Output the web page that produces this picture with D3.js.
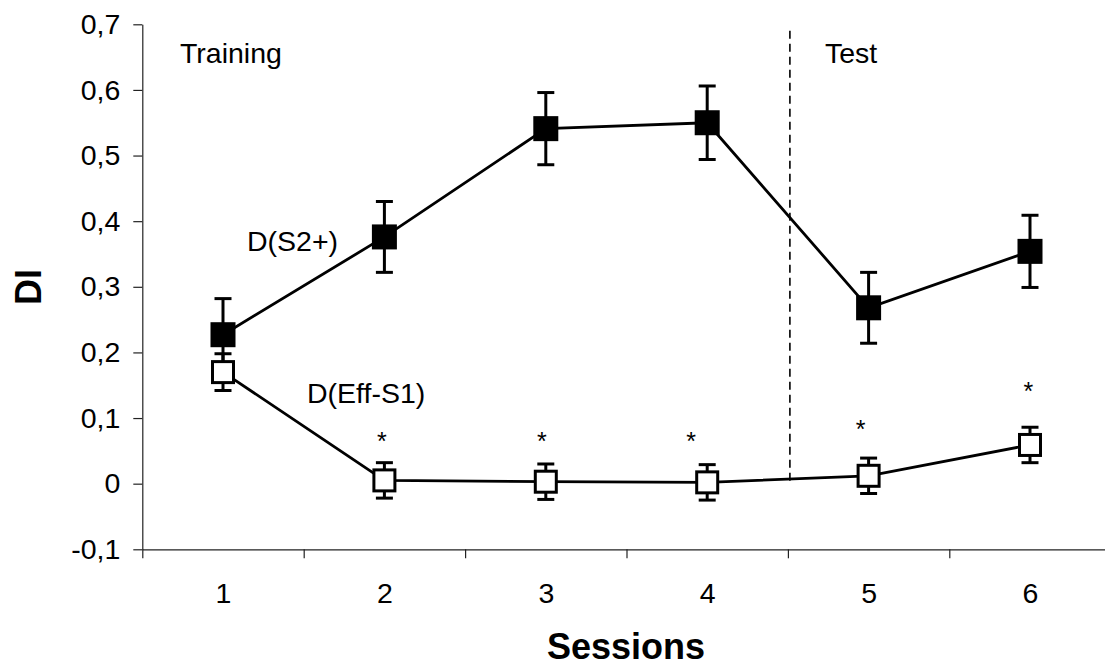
<!DOCTYPE html>
<html>
<head>
<meta charset="utf-8">
<script src="https://cdn.jsdelivr.net/npm/d3@7"></script>
<style>
  body { margin: 0; background: #fff; }
  text { font-family: "Liberation Sans", Arial, sans-serif; }
</style>
</head>
<body>
<div id="chart"></div>
<script>
// data
var sessions = [1, 2, 3, 4, 5, 6];
var s2Values = [0.227, 0.376, 0.541, 0.55, 0.268, 0.354];
var s2Errors = [0.055, 0.054, 0.055, 0.056, 0.054, 0.055];
var effValues = [0.17, 0.005, 0.003, 0.002, 0.012, 0.059];
var effErrors = [0.028, 0.027, 0.027, 0.027, 0.027, 0.027];
var starX = [1.985, 2.976, 3.9, 4.95, 5.99];
var starY = [0.073, 0.073, 0.073, 0.091, 0.148];
var yTicks = [-0.1, 0, 0.1, 0.2, 0.3, 0.4, 0.5, 0.6, 0.7];
var xBounds = [0.5, 1.5, 2.5, 3.5, 4.5, 5.5, 6.5];
var splitAt = 4.5;

var width = 1105, height = 666;

var svg = d3
  .select("#chart")
  .append("svg")
  .attr("width", width)
  .attr("height", height);

var x = d3.scaleLinear().domain([0.5, 6.5]).range([142.3, 142.3 + 6 * 161.4]);
var y = d3.scaleLinear().domain([-0.1, 0.7]).range([549.3, 24.3]);

function fmt(d) {
  if (Math.abs(d) < 1e-9) return "0";
  return d.toFixed(1).replace(".", ",");
}

// Y axis
var yAxis = svg
  .append("g")
  .attr("class", "y axis")
  .attr("transform", "translate(" + x(0.5) + ",0)")
  .call(
    d3.axisLeft(y).tickValues(yTicks).tickFormat(fmt).tickSize(9).tickSizeOuter(0).tickPadding(13)
  );
yAxis.selectAll("text").style("font-size", "28.5px").attr("fill", "#000");

// X axis (boundary ticks)
svg
  .append("g")
  .attr("class", "x axis")
  .attr("transform", "translate(0," + y(-0.1) + ")")
  .call(d3.axisBottom(x).tickValues(xBounds).tickFormat("").tickSize(9).tickSizeOuter(0));

// X labels at centers
svg
  .append("g")
  .attr("transform", "translate(0," + y(-0.1) + ")")
  .call(d3.axisBottom(x).tickValues(sessions).tickFormat(d3.format("d")).tickSize(0).tickPadding(33))
  .call(function (g) {
    g.select(".domain").remove();
  })
  .selectAll("text")
  .style("font-size", "28.5px")
  .attr("fill", "#000");

svg.selectAll(".axis path, .axis line").attr("stroke", "#222").attr("stroke-width", 1.2);

// Axis titles
svg
  .append("text")
  .attr("x", 626)
  .attr("y", 659)
  .attr("text-anchor", "middle")
  .style("font-size", "36px")
  .style("font-weight", "bold")
  .text("Sessions");

svg
  .append("text")
  .attr("transform", "translate(41,287) rotate(-90)")
  .attr("text-anchor", "middle")
  .style("font-size", "36px")
  .style("font-weight", "bold")
  .text("DI");

// training / test divider
svg
  .append("line")
  .attr("x1", x(splitAt) + 2)
  .attr("x2", x(splitAt) + 2)
  .attr("y1", y(0.69))
  .attr("y2", y(0))
  .attr("stroke", "#000")
  .attr("stroke-width", 1.6)
  .attr("stroke-dasharray", "8,5");

svg.append("text").attr("x", 180).attr("y", 63).style("font-size", "28.5px").text("Training");
svg.append("text").attr("x", 825).attr("y", 63).style("font-size", "28.5px").text("Test");
svg.append("text").attr("x", 247).attr("y", 251).style("font-size", "28.5px").text("D(S2+)");
svg.append("text").attr("x", 307).attr("y", 403).style("font-size", "28.5px").text("D(Eff-S1)");

var line = d3
  .line()
  .x(function (d) {
    return x(d.s);
  })
  .y(function (d) {
    return y(d.v);
  });

function drawSeries(values, errors, filled) {
  var data = sessions.map(function (s, i) {
    return { s: s, v: values[i], e: errors[i] };
  });
  var g = svg.append("g");

  g.append("path")
    .attr("d", line(data))
    .attr("fill", "none")
    .attr("stroke", "#000")
    .attr("stroke-width", 2.8);

  var pt = g.selectAll(".pt").data(data).enter().append("g").attr("class", "pt");

  pt.append("line")
    .attr("x1", (d) => x(d.s))
    .attr("x2", (d) => x(d.s))
    .attr("y1", (d) => y(d.v + d.e))
    .attr("y2", (d) => y(d.v - d.e))
    .attr("stroke", "#000")
    .attr("stroke-width", 3);

  [1, -1].forEach(function (sign) {
    pt.append("line")
      .attr("x1", (d) => x(d.s) - 8.5)
      .attr("x2", (d) => x(d.s) + 8.5)
      .attr("y1", (d) => y(d.v + sign * d.e))
      .attr("y2", (d) => y(d.v + sign * d.e))
      .attr("stroke", "#000")
      .attr("stroke-width", 3);
  });

  if (filled) {
    pt.append("rect")
      .attr("x", (d) => x(d.s) - 12.5)
      .attr("y", (d) => y(d.v) - 12.5)
      .attr("width", 25)
      .attr("height", 25)
      .attr("fill", "#000");
  } else {
    pt.append("rect")
      .attr("x", (d) => x(d.s) - 10.5)
      .attr("y", (d) => y(d.v) - 10.5)
      .attr("width", 21)
      .attr("height", 21)
      .attr("fill", "#fff")
      .attr("stroke", "#000")
      .attr("stroke-width", 3);
  }
}

drawSeries(s2Values, s2Errors, true);
drawSeries(effValues, effErrors, false);

// significance stars
svg
  .selectAll(".star")
  .data(starX)
  .enter()
  .append("text")
  .attr("class", "star")
  .attr("x", (d) => x(d))
  .attr("y", (d, i) => y(starY[i]))
  .attr("dy", "0.55em")
  .attr("text-anchor", "middle")
  .style("font-size", "25px")
  .text("*");
</script>
</body>
</html>
